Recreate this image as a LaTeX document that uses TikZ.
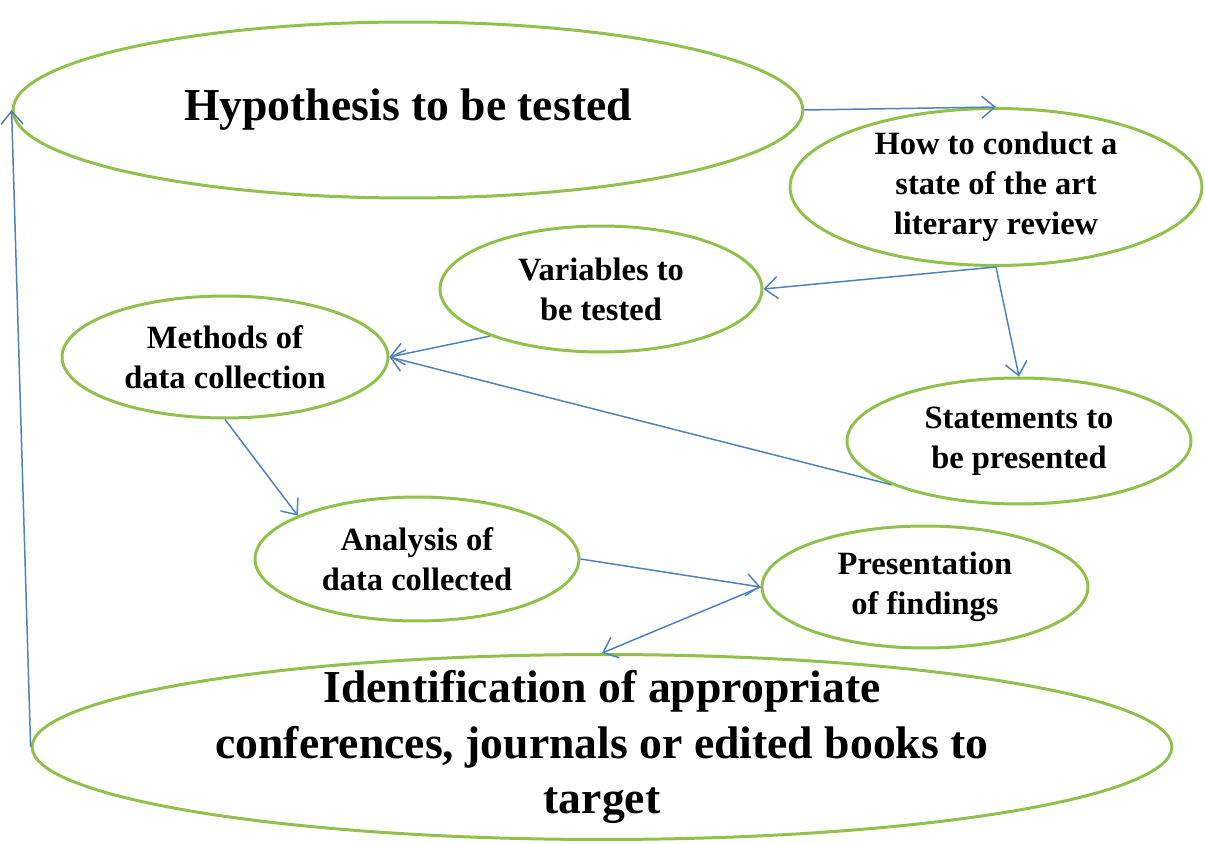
\documentclass[tikz,border=0pt]{standalone}
\usepackage{fontspec}
\setmainfont{Liberation Serif}
\usetikzlibrary{shapes.geometric}
\usetikzlibrary{arrows.meta}
\definecolor{leaf}{RGB}{146,192,76}
\definecolor{wire}{RGB}{79,129,189}

\begin{document}
\begin{tikzpicture}[x=0.02cm, y=-0.02cm,
    main/.style = {draw=leaf, line width=1.7pt, ellipse, inner sep=0pt, align=center, font=\bfseries\fontsize{18.5}{22.7}\selectfont},
    big/.style = {main, font=\bfseries\fontsize{26}{31.5}\selectfont},
    link/.style = {draw=wire, line width=0.85pt, -{Straight Barb[length=2.6mm, width=4.4mm]}}]
    \useasboundingbox (0,0) rectangle (1205,844);

    \node[big, minimum width=15.8cm, minimum height=3.52cm] (hyp) at (408,110) {Hypothesis to be tested};
    \node[main, minimum width=8.24cm, minimum height=3.14cm] (how) at (996,187) {How to conduct a\\state of the art\\literary review};
    \node[main, minimum width=6.44cm, minimum height=2.52cm] (var) at (601,289) {Variables to\\be tested};
    \node[main, minimum width=6.52cm, minimum height=2.44cm] (meth) at (225,357) {Methods of\\data collection};
    \node[main, minimum width=6.88cm, minimum height=2.52cm] (stat) at (1019,441) {Statements to\\be presented};
    \node[main, minimum width=6.48cm, minimum height=2.48cm] (ana) at (417,559) {Analysis of\\data collected};
    \node[main, minimum width=6.52cm, minimum height=2.44cm] (pres) at (925,587) {Presentation\\of findings};
    \node[big, inner ysep=-9pt, minimum width=22.8cm, minimum height=3.7cm] (ident) at (602,747) {Identification of appropriate\\conferences, journals or edited books to\\target};

    \draw[link] (hyp.east) -- (how.north);
    \draw[link] (how.south) -- (var.east);
    \draw[link] (how.south) -- (stat.north);
    \draw[link] (var.203) -- (meth.east);
    \draw[link] (stat.199) -- (meth.east);
    \draw[link] (meth.south) -- (ana.160);
    \draw[link] (ana.east) -- (pres.west);
    \draw[link] (pres.west) -- (ident.north);
    \draw[link] (ident.west) -- (hyp.west);
\end{tikzpicture}
\end{document}
